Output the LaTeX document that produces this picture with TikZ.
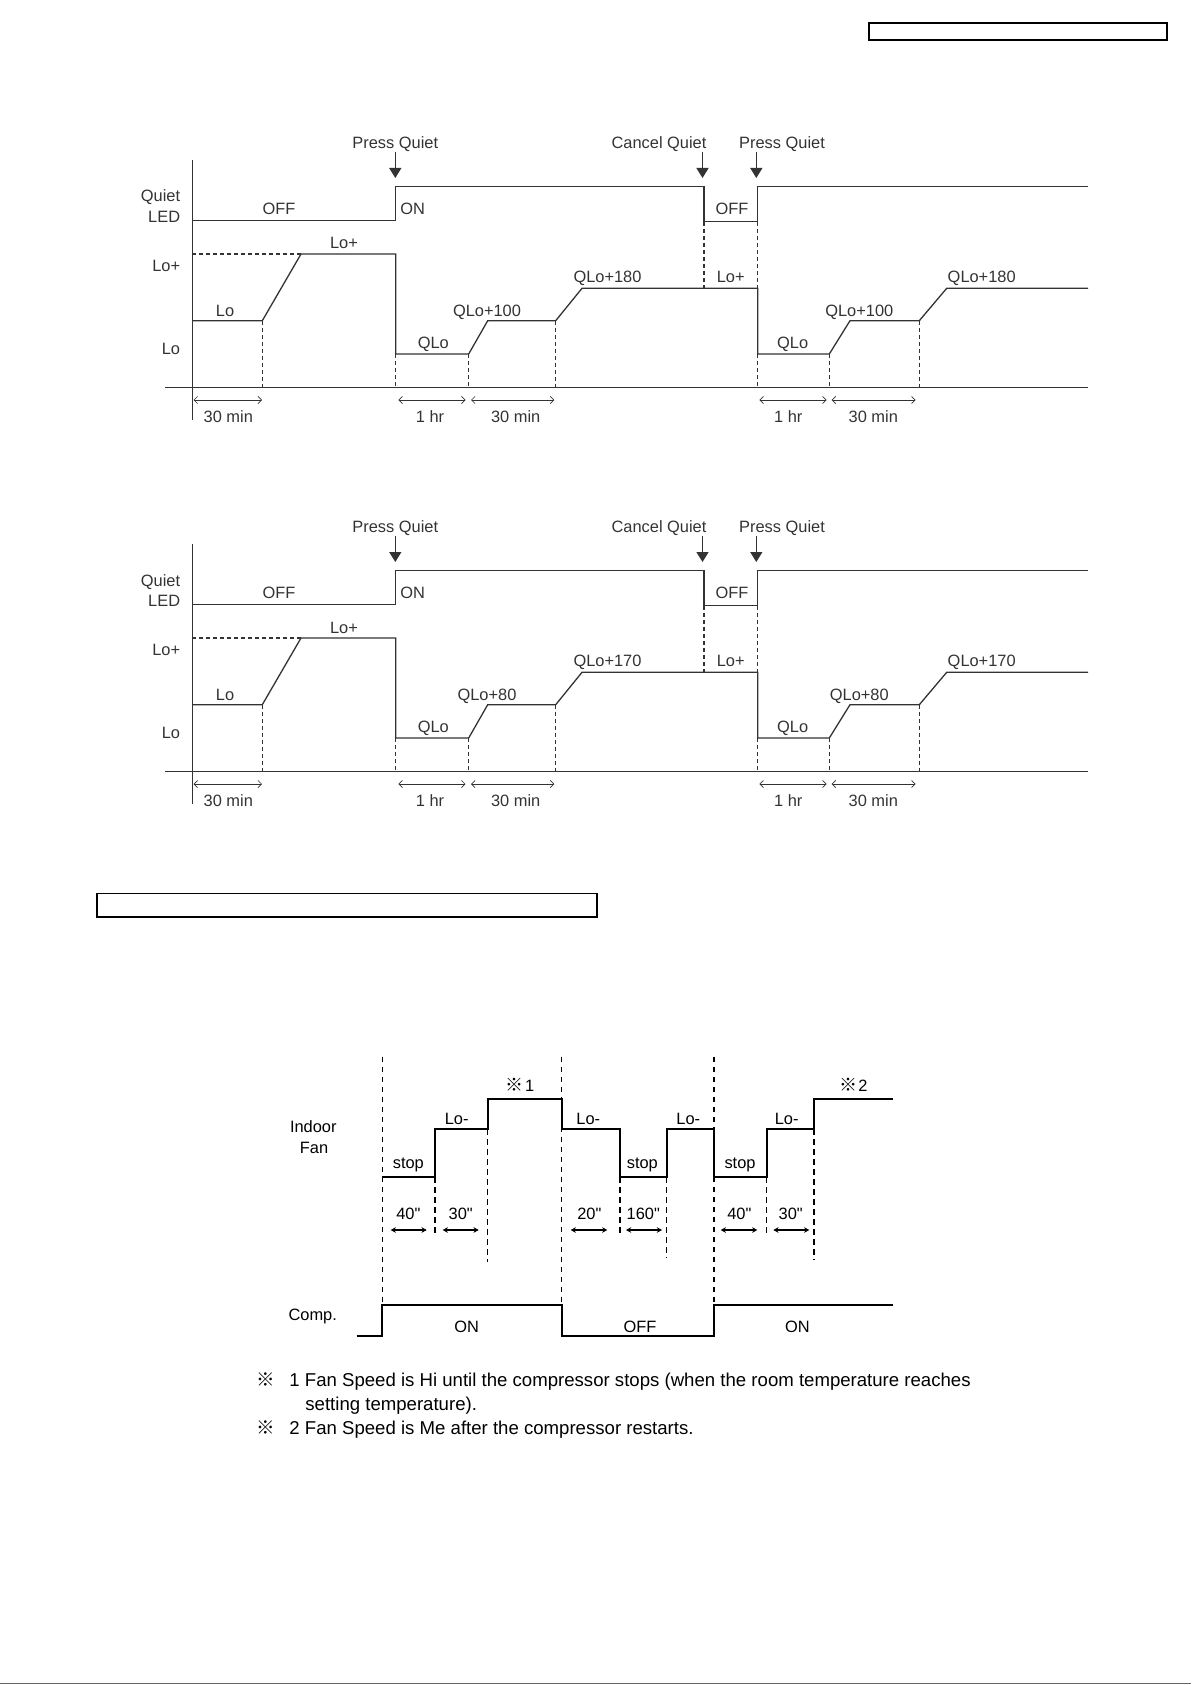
\documentclass[tikz,border=0pt]{standalone}
\usepackage{fontspec}
\setmainfont{Liberation Sans}
\newfontfamily\plain{Liberation Sans}
\newfontfamily\cjk{Noto Sans CJK JP}
\usetikzlibrary{arrows.meta}
\definecolor{ink}{HTML}{333333}
\begin{document}
\begin{tikzpicture}[x=0.5pt,y=-0.5pt,
  chart/.style={line width=0.65pt, draw=ink, line join=miter},
  guide/.style={line width=0.6pt, draw=ink, dash pattern=on 2pt off 1.5pt},
  lbl/.style={font=\plain\fontsize{8.2}{9}\selectfont, text=ink, inner sep=0pt, anchor=base},
  lblr/.style={lbl, anchor=base east},
  press/.style={draw=ink, line width=0.7pt, -{Triangle[width=6pt,length=5pt]}},
  dimline/.style={draw=ink, line width=0.35pt, {Straight Barb[length=1.8pt,width=3.6pt]}-{Straight Barb[length=1.8pt,width=3.6pt]}},
  sig/.style={line width=1pt, draw=black},
  fguide/.style={line width=0.75pt, draw=black, dash pattern=on 2.6pt off 2.4pt},
  flbl/.style={font=\plain\fontsize{8.2}{9}\selectfont, inner sep=0pt, anchor=base},
  dur/.style={line width=0.8pt, {Stealth[length=2.6pt,width=2.8pt]}-{Stealth[length=2.6pt,width=2.8pt]}},
  note/.style={font=\plain\fontsize{9.3}{11}\selectfont, inner sep=0pt, anchor=base west},
  frame/.style={draw=black, line width=1pt}
]
\useasboundingbox (0,0) rectangle (1191,1685);

% header boxes
\draw[frame] (869,23) rectangle (1167,40);
\draw[frame, line width=0.9pt] (97,893.5) rectangle (597,917);

% ---------- two Quiet charts ----------
\foreach \ys/\mid/\high [count=\k] in {0/100/180, -192/80/170}{
\begin{scope}[yshift=\ys pt]
  % axes
  \draw[chart] (192.3,160) -- (192.3,420);
  \draw[chart] (165,387.3) -- (1088,387.3);
  % LED
  \draw[chart] (192.3,220.7) -- (395.7,220.7) -- (395.7,186.7) -- (704,186.7)
     -- (704,221.7) -- (757.7,221.7) -- (757.7,186.7) -- (1088,186.7);
  % fan speed
  \draw[chart] (192.3,320.7) -- (262.3,320.7) -- (301,254) -- (395.7,254)
     -- (395.7,354) -- (468.7,354) -- (487.7,320.7) -- (555.7,320.7)
     -- (582,288.3) -- (757.7,288.3) -- (757.7,354) -- (829.3,354)
     -- (850,320.7) -- (919.3,320.7) -- (946.7,288.3) -- (1088,288.3);
  % guides
  \draw[guide] (192.3,254) -- (301,254);
  \draw[guide] (262.3,320.7) -- (262.3,387.3);
  \draw[guide] (395.7,354) -- (395.7,387.3);
  \draw[guide] (468.7,354) -- (468.7,387.3);
  \draw[guide] (555.7,320.7) -- (555.7,387.3);
  \draw[guide] (704,221.7) -- (704,288.3);
  \draw[guide] (757.7,221.7) -- (757.7,288.3);
  \draw[guide] (757.7,354) -- (757.7,387.3);
  \draw[guide] (829.3,354) -- (829.3,387.3);
  \draw[guide] (919.3,320.7) -- (919.3,387.3);
  % events
  \node[lbl] (pq1-\k) at (395.3,148.5) {Press Quiet};
  \node[lbl] (cq-\k) at (659,148.5) {Cancel Quiet};
  \node[lbl] (pq2-\k) at (782,148.5) {Press Quiet};
  \draw[press] (395.3,152) -- (395.3,178);
  \draw[press] (702.5,152) -- (702.5,178);
  \draw[press] (756.3,152) -- (756.3,178);
  % axis labels
  \node[lblr] (quiet-\k) at (180.5,202) {Quiet};
  \node[lblr] (led-\k) at (180.5,222.5) {LED};
  \node[lblr] (lop-\k) at (180.5,271.5) {Lo+};
  \node[lblr] (lo-\k) at (180.5,354.5) {Lo};
  % state labels
  \node[lbl] (off1-\k) at (279,214) {OFF};
  \node[lbl] (on-\k) at (412.7,214) {ON};
  \node[lbl] (off2-\k) at (732,214) {OFF};
  \node[lbl] (slop-\k) at (344,249) {Lo+};
  \node[lbl] (slo-\k) at (225,316.5) {Lo};
  \node[lbl] (qlo1-\k) at (433.3,348.5) {QLo};
  \node[lbl] (qlom1-\k) at (487,316) {QLo+\mid};
  \node[lbl] (qloh1-\k) at (607.5,282) {QLo+\high};
  \node[lbl] (slop2-\k) at (730.7,282) {Lo+};
  \node[lbl] (qlo2-\k) at (792.7,348.5) {QLo};
  \node[lbl] (qlom2-\k) at (859.3,316) {QLo+\mid};
  \node[lbl] (qloh2-\k) at (981.7,282) {QLo+\high};
  % durations
  \draw[dimline] (193.5,400) -- (262,400);
  \draw[dimline] (398.3,400) -- (465.5,400);
  \draw[dimline] (471,400) -- (554.3,400);
  \draw[dimline] (759.3,400) -- (826.7,400);
  \draw[dimline] (831.7,400) -- (915.7,400);
  \node[lbl] (d1-\k) at (228.3,422) {30 min};
  \node[lbl] (d2-\k) at (430,422) {1 hr};
  \node[lbl] (d3-\k) at (515.7,422) {30 min};
  \node[lbl] (d4-\k) at (788.3,422) {1 hr};
  \node[lbl] (d5-\k) at (873.3,422) {30 min};
\end{scope}
}

% ---------- Indoor fan / compressor chart ----------
\draw[fguide] (382.3,1056.7) -- (382.3,1303);
\draw[fguide] (561.7,1056.7) -- (561.7,1303);
\draw[fguide] (714,1056.7) -- (714,1303);
\draw[fguide] (435,1177.3) -- (435,1233);
\draw[fguide] (487.7,1129.3) -- (487.7,1262);
\draw[fguide] (620,1177.3) -- (620,1233);
\draw[fguide] (666.7,1177.3) -- (666.7,1258);
\draw[fguide] (766.7,1177.3) -- (766.7,1233);
\draw[fguide] (814,1129.3) -- (814,1260);

\draw[sig] (382.3,1177.3) -- (435,1177.3) -- (435,1129.3) -- (487.7,1129.3)
   -- (487.7,1098.7) -- (561.7,1098.7) -- (561.7,1129.3) -- (620,1129.3)
   -- (620,1177.3) -- (666.7,1177.3) -- (666.7,1129.3) -- (714,1129.3)
   -- (714,1177.3) -- (766.7,1177.3) -- (766.7,1129.3) -- (814,1129.3)
   -- (814,1098.7) -- (893.3,1098.7);
\draw[sig] (356.7,1336) -- (382.3,1336) -- (382.3,1305) -- (561.7,1305)
   -- (561.7,1336) -- (714,1336) -- (714,1305) -- (893.3,1305);

\node[flbl] (indoor) at (313.3,1132) {Indoor};
\node[flbl] (fan) at (314,1153.3) {Fan};
\node[flbl] (comp) at (312.7,1320) {Comp.};

\node[flbl] (stop1) at (408.3,1168.7) {stop};
\node[flbl] (lom1) at (456.7,1124.3) {Lo-};
\node[flbl] (mark1) at (520,1091) {{\cjk\fontsize{9}{10}\selectfont ※}\kern0.6pt1};
\node[flbl] (lom2) at (588.3,1124.3) {Lo-};
\node[flbl] (stop2) at (642.3,1168.7) {stop};
\node[flbl] (lom3) at (688.3,1124.3) {Lo-};
\node[flbl] (stop3) at (740,1168.7) {stop};
\node[flbl] (lom4) at (786.7,1124.3) {Lo-};
\node[flbl] (mark2) at (853.3,1091) {{\cjk\fontsize{9}{10}\selectfont ※}\kern0.6pt2};

\node[flbl] (con1) at (466.7,1332) {ON};
\node[flbl] (coff) at (640,1332) {OFF};
\node[flbl] (con2) at (797.3,1332) {ON};

\node[flbl] (t40a) at (408.3,1219.3) {40"};
\node[flbl] (t30a) at (460.7,1219.3) {30"};
\node[flbl] (t20) at (589.3,1219.3) {20"};
\node[flbl] (t160) at (643.3,1219.3) {160"};
\node[flbl] (t40b) at (739.3,1219.3) {40"};
\node[flbl] (t30b) at (790.7,1219.3) {30"};
\draw[dur] (390.7,1230) -- (426.7,1230);
\draw[dur] (442.7,1230) -- (478.7,1230);
\draw[dur] (570.7,1230) -- (607.3,1230);
\draw[dur] (626,1230) -- (662,1230);
\draw[dur] (720.7,1230) -- (757.3,1230);
\draw[dur] (773.3,1230) -- (809.3,1230);

% ---------- notes ----------
\node[flbl, font=\fontsize{9.3}{11}\selectfont\cjk] (n1m) at (265.5,1386) {※};
\node[note] (n1) at (289,1386) {1 Fan Speed is Hi until the compressor stops (when the room temperature reaches};
\node[note] (n1b) at (305,1410) {setting temperature).};
\node[flbl, font=\fontsize{9.3}{11}\selectfont\cjk] (n2m) at (265.5,1434) {※};
\node[note] (n2) at (289,1434) {2 Fan Speed is Me after the compressor restarts.};

\draw[line width=0.5pt, draw=black!60] (0,1683.5) -- (1191,1683.5);
\end{tikzpicture}
\end{document}
